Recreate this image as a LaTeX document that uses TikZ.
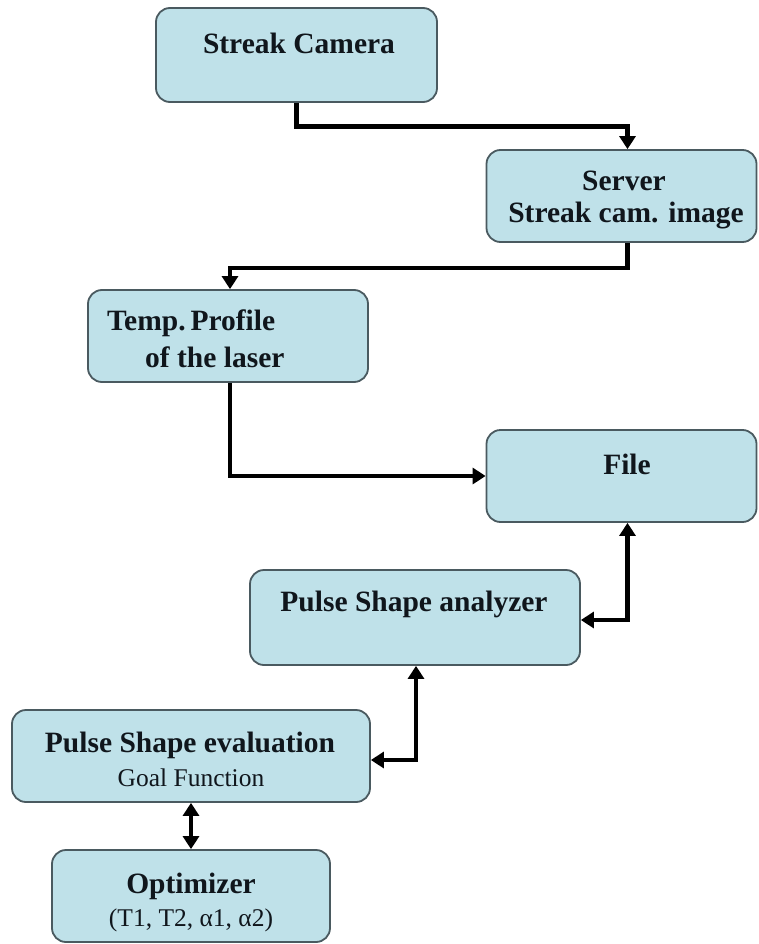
\documentclass[tikz,border=0pt]{standalone}
\usepackage{fontspec}
\setmainfont{Liberation Serif}
\usetikzlibrary{arrows.meta}
\definecolor{boxfill}{HTML}{BFE1E9}
\definecolor{boxline}{HTML}{4A5A60}
\definecolor{txt}{HTML}{10161C}
\tikzset{
  box/.style={draw=boxline, fill=boxfill, line width=1.8pt, rounded corners=14pt, inner sep=0pt},
  bt/.style={text=txt, font=\fontsize{29.5}{34}\selectfont\bfseries, inner sep=0pt},
  rt/.style={text=txt, font=\fontsize{25.5}{30}\selectfont, inner sep=0pt},
  arr/.style={line width=4.8pt, -{Triangle[length=13pt,width=16pt]}},
  dbl/.style={line width=4.8pt, {Triangle[length=13pt,width=16pt]}-{Triangle[length=13pt,width=16pt]}}
}
\begin{document}
\begin{tikzpicture}[x=1pt,y=-1pt]
\useasboundingbox (0,0) rectangle (758,944);
\fill[white] (0,0) rectangle (758,944);
% boxes
\node[box, minimum width=281pt, minimum height=94pt] (cam) at (296.5,55) {};
\node[box, minimum width=270pt, minimum height=92pt] (server) at (621.5,196) {};
\node[box, minimum width=280pt, minimum height=92pt] (temp) at (228,336) {};
\node[box, minimum width=270pt, minimum height=92pt] (file) at (621.5,476) {};
\node[box, minimum width=330pt, minimum height=95pt] (ana) at (415,617.5) {};
\node[box, minimum width=358pt, minimum height=92pt] (eval) at (191,756) {};
\node[box, minimum width=278pt, minimum height=92pt] (opt) at (191,896) {};
% texts
\node[bt] (camT) at (299,43) {Streak Camera};
\node[bt] (serverA) at (624,181) {Server};
\node[bt] (serverB) at (626,216) {Streak cam. image};
\node[bt, anchor=west] (tempA) at (107,323) {Temp.\,Profile};
\node[bt, anchor=west] (tempB) at (145,357) {of the laser};
\node[bt] (fileT) at (627,464) {File};
\node[bt] (anaT) at (414,604) {Pulse Shape analyzer};
\node[bt] (evalA) at (190,745) {Pulse Shape evaluation};
\node[rt] (evalB) at (191,778) {Goal Function};
\node[bt] (optA) at (191,886) {Optimizer};
\node[rt] (optB) at (191,920) {(T1, T2, α1, α2)};
% connectors
\draw[arr] (cam.south) -- ++(0,24) -| ([xshift=6pt]server.north);
\draw[arr] ([xshift=6pt]server.south) -- ++(0,25) -| ([xshift=2pt]temp.north);
\draw[arr] ([xshift=2pt]temp.south) |- (file.west);
\draw[dbl] ([xshift=6pt]file.south) |- ([yshift=-2.5pt]ana.east);
\draw[dbl] ([xshift=1pt]ana.south) |- ([yshift=-4pt]eval.east);
\draw[dbl] (eval.south) -- (opt.north);
\end{tikzpicture}
\end{document}
